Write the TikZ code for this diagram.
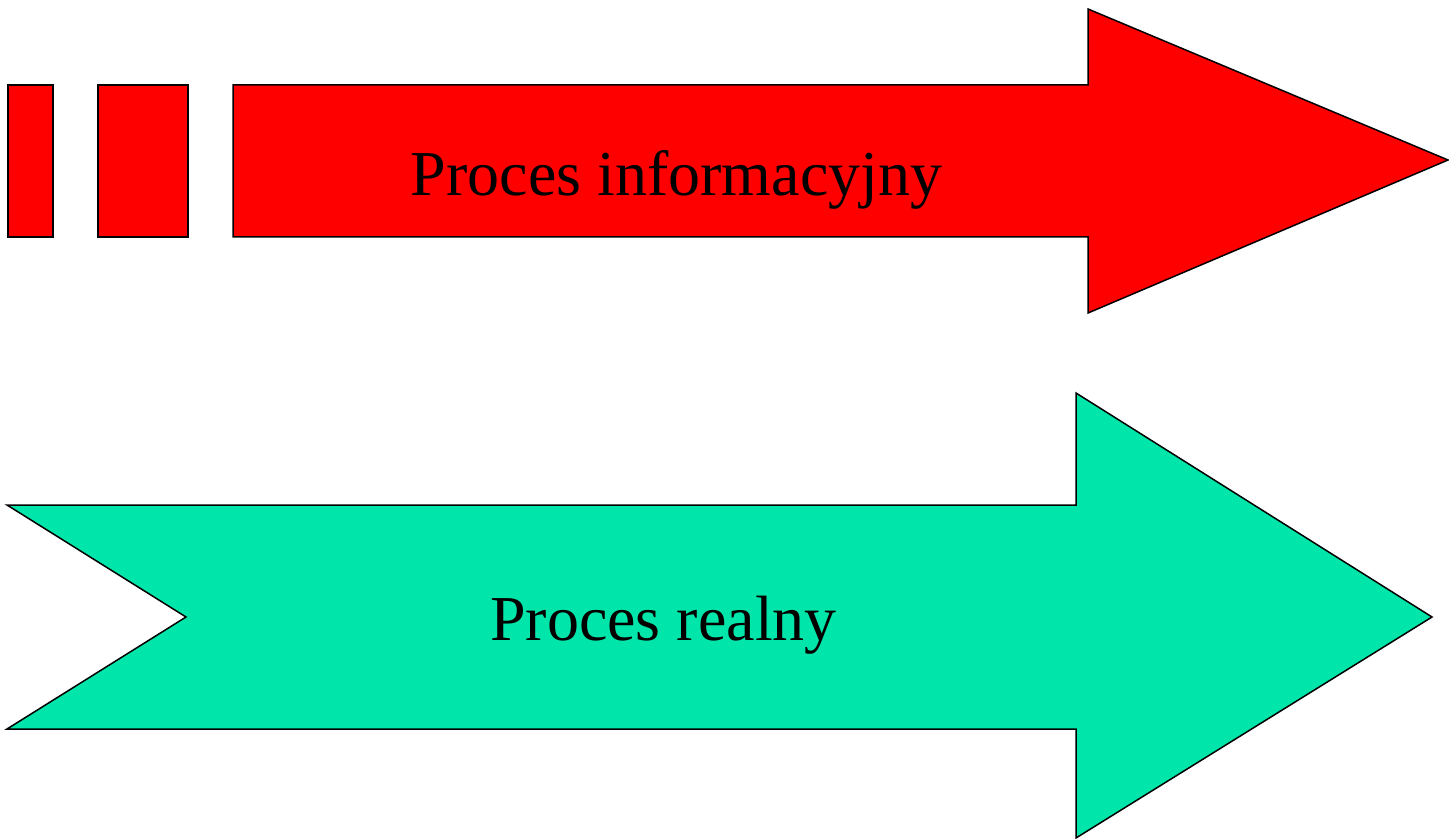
\documentclass[tikz,border=0pt]{standalone}
\usepackage{fontspec}
\setmainfont{Liberation Serif}
\definecolor{procred}{HTML}{FF0000}
\definecolor{procgreen}{HTML}{00E6AA}
\begin{document}
\begin{tikzpicture}[x=0.5pt,y=-0.5pt,
  redshape/.style={fill=procred,draw=black,line width=0.75pt,line join=miter},
  greenshape/.style={fill=procgreen,draw=black,line width=0.75pt,line join=miter},
  label/.style={font=\fontsize{32}{38}\selectfont,inner sep=0pt,anchor=base}]
\useasboundingbox (0,0) rectangle (1449,839);
% information process: two short bars and a block arrow
\draw[redshape] (8,85) rectangle (53,237);
\draw[redshape] (98,85) rectangle (188,237);
\draw[redshape] (233,85) -- (1088,85) -- (1088,9) -- (1448,160) -- (1088,313) -- (1088,237) -- (233,237) -- cycle;
\node[label] (info) at (676.5,196) {Proces informacyjny};
% real process: notched block arrow
\draw[greenshape] (7,505) -- (1076,505) -- (1076,393) -- (1432,617) -- (1076,838) -- (1076,729) -- (7,729) -- (186,617) -- cycle;
\node[label] (real) at (663.5,640) {Proces realny};
\end{tikzpicture}
\end{document}
